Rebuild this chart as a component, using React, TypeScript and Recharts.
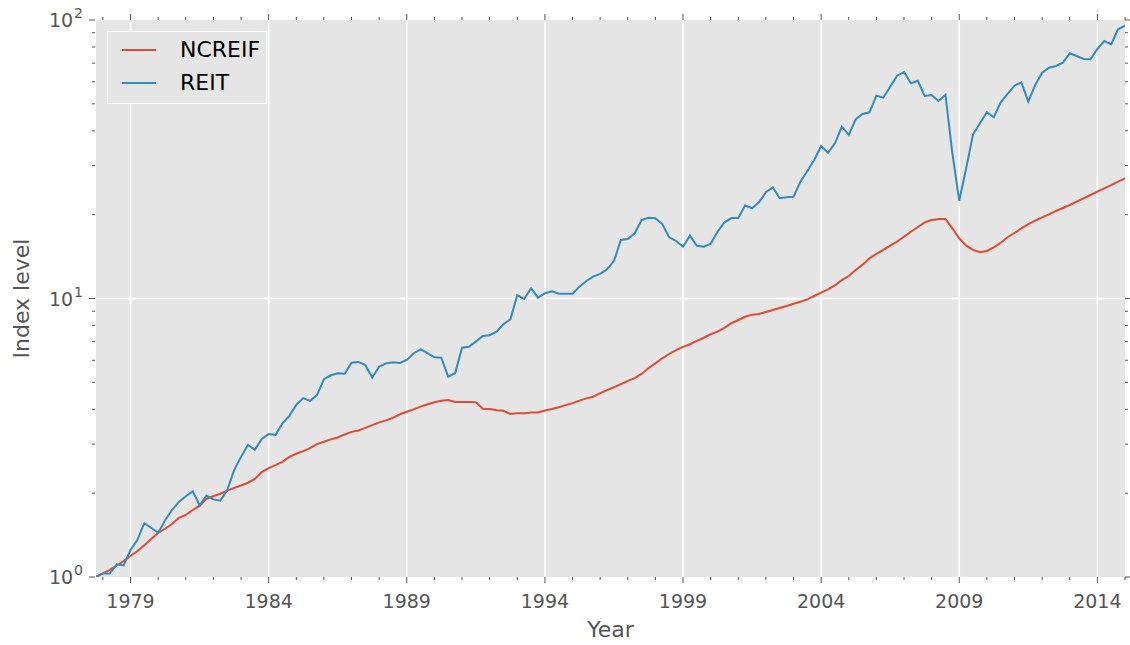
import React from 'react';
import { LineChart, Line, XAxis, YAxis, ReferenceLine, ReferenceArea, Legend, Label } from 'recharts';

// Quarterly series, first point = 1977 Q4 (index base 1.0)
const START_YEAR = 1977.75;
const STEP = 0.25;

const ncreifValues = [
  1.00, 1.03, 1.06, 1.10, 1.14, 1.19, 1.24, 1.30, 1.37, 1.44,
  1.49, 1.55, 1.63, 1.67, 1.74, 1.80, 1.91, 1.95, 1.99, 2.04,
  2.09, 2.13, 2.18, 2.25, 2.38, 2.46, 2.52, 2.59, 2.70, 2.77,
  2.83, 2.90, 3.00, 3.06, 3.12, 3.17, 3.25, 3.32, 3.36, 3.43,
  3.51, 3.59, 3.65, 3.73, 3.84, 3.92, 4.00, 4.09, 4.17, 4.24,
  4.29, 4.32, 4.25, 4.25, 4.25, 4.24, 4.02, 4.01, 3.97, 3.95,
  3.85, 3.87, 3.87, 3.90, 3.90, 3.96, 4.01, 4.07, 4.14, 4.21,
  4.30, 4.38, 4.44, 4.57, 4.69, 4.80, 4.93, 5.06, 5.18, 5.36,
  5.62, 5.85, 6.10, 6.32, 6.53, 6.70, 6.85, 7.04, 7.23, 7.44,
  7.60, 7.85, 8.15, 8.37, 8.60, 8.75, 8.80, 8.94, 9.09, 9.25,
  9.40, 9.58, 9.74, 9.93, 10.21, 10.49, 10.79, 11.15, 11.65, 12.04,
  12.66, 13.23, 13.94, 14.45, 14.94, 15.47, 16.00, 16.67, 17.37, 18.06,
  18.77, 19.14, 19.30, 19.30, 17.87, 16.45, 15.47, 14.94, 14.65, 14.81,
  15.27, 15.86, 16.59, 17.19, 17.87, 18.51, 19.03, 19.57, 20.06, 20.62,
  21.13, 21.66, 22.26, 22.90, 23.53, 24.18, 24.86, 25.55, 26.27, 27.02,
];

const reitValues = [
  1.00, 1.03, 1.03, 1.11, 1.10, 1.25, 1.36, 1.56, 1.50, 1.44,
  1.60, 1.74, 1.86, 1.95, 2.03, 1.81, 1.96, 1.90, 1.88, 2.05,
  2.42, 2.70, 2.98, 2.86, 3.13, 3.26, 3.24, 3.56, 3.79, 4.15,
  4.39, 4.29, 4.50, 5.13, 5.30, 5.39, 5.37, 5.88, 5.92, 5.77,
  5.20, 5.69, 5.85, 5.90, 5.87, 6.02, 6.36, 6.57, 6.36, 6.15,
  6.13, 5.24, 5.39, 6.66, 6.71, 7.00, 7.33, 7.38, 7.60, 8.08,
  8.42, 10.27, 9.96, 10.88, 10.07, 10.44, 10.61, 10.40, 10.40, 10.40,
  11.03, 11.56, 11.98, 12.25, 12.73, 13.63, 16.22, 16.35, 17.15, 19.14,
  19.50, 19.41, 18.51, 16.59, 16.09, 15.35, 16.81, 15.47, 15.35, 15.73,
  17.37, 18.77, 19.45, 19.45, 21.61, 21.08, 22.15, 24.07, 25.07, 22.90,
  23.09, 23.20, 26.27, 28.70, 31.43, 35.29, 33.39, 36.08, 41.40, 38.65,
  44.00, 45.97, 46.62, 53.47, 52.60, 57.62, 63.10, 65.06, 59.25, 60.53,
  53.35, 53.80, 51.20, 53.92, 33.20, 22.45, 29.35, 38.88, 42.57, 46.62,
  44.73, 50.64, 54.25, 58.09, 59.74, 50.89, 58.43, 64.69, 67.40, 68.37,
  70.27, 75.94, 74.26, 72.44, 72.30, 78.70, 84.07, 81.80, 92.60, 95.40,
];

const yearTicks = [
  1978, 1979, 1980, 1981, 1982, 1983, 1984, 1985, 1986, 1987,
  1988, 1989, 1990, 1991, 1992, 1993, 1994, 1995, 1996, 1997,
  1998, 1999, 2000, 2001, 2002, 2003, 2004, 2005, 2006, 2007,
  2008, 2009, 2010, 2011, 2012, 2013, 2014, 2015,
];
const majorYears = [1979, 1984, 1989, 1994, 1999, 2004, 2009, 2014];
const yTicks = [1, 2, 3, 4, 5, 6, 7, 8, 9, 10, 20, 30, 40, 50, 60, 70, 80, 90, 100];
const yMajor = [1, 10, 100];
const yExponent: Record<number, string> = { 1: '0', 10: '1', 100: '2' };

const data = ncreifValues.map((v, i) => ({
  t: START_YEAR + i * STEP,
  NCREIF: v,
  REIT: reitValues[i],
}));

const W = 1130;
const H = 645;
const M = { top: 20, right: 5, bottom: 0, left: 0 };
const Y_AXIS_W = 96;
const X_AXIS_H = 68;
const PLOT_W = W - M.left - M.right - Y_AXIS_W;
const PLOT_H = H - M.top - M.bottom - X_AXIS_H;

const FONT = '"DejaVu Sans", "Liberation Sans", sans-serif';
const TICK_COLOR = '#555555';
const BG = '#E5E5E5';
const RED = '#E24A33';
const BLUE = '#348ABD';

const XTick = (props: any) => {
  const { x, y, payload } = props;
  const major = majorYears.includes(payload.value);
  const len = major ? 6 : 3;
  return (
    <g>
      <line x1={x} x2={x} y1={y} y2={y + len} stroke={TICK_COLOR} strokeWidth={1} />
      <line x1={x} x2={x} y1={y - PLOT_H} y2={y - PLOT_H - len} stroke={TICK_COLOR} strokeWidth={1} />
      {major && (
        <text x={x} y={y + 31} textAnchor="middle" fill={TICK_COLOR} fontSize={19} fontFamily={FONT}>
          {payload.value}
        </text>
      )}
    </g>
  );
};

const YTick = (props: any) => {
  const { x, y, payload } = props;
  const major = yMajor.includes(payload.value);
  const len = major ? 6 : 3;
  return (
    <g>
      <line x1={x - 1} x2={x - 1 - len} y1={y} y2={y} stroke={TICK_COLOR} strokeWidth={1} />
      <line x1={x + PLOT_W} x2={x + PLOT_W + len} y1={y} y2={y} stroke={TICK_COLOR} strokeWidth={1} />
      {major && (
        <text x={x - 13} y={y + 7} textAnchor="end" fill={TICK_COLOR} fontSize={19} fontFamily={FONT}>
          <tspan>10</tspan>
          <tspan dy={-9} dx={1} fontSize={14}>{yExponent[payload.value]}</tspan>
        </text>
      )}
    </g>
  );
};

const XTitle = (props: any) => {
  const vb = props.viewBox;
  return (
    <text x={vb.x + vb.width / 2} y={vb.y + 60} textAnchor="middle" fill={TICK_COLOR} fontSize={22} fontFamily={FONT}>
      Year
    </text>
  );
};

const YTitle = (props: any) => {
  const vb = props.viewBox;
  const cx = vb.x + 29;
  const cy = vb.y + vb.height / 2;
  return (
    <text x={cx} y={cy} transform={`rotate(-90 ${cx} ${cy})`} textAnchor="middle" fill={TICK_COLOR} fontSize={22} fontFamily={FONT}>
      Index level
    </text>
  );
};

const LegendBox = (props: any) => {
  const items = props.payload || [];
  return (
    <div
      style={{
        boxSizing: 'border-box',
        width: 160,
        height: 73,
        background: BG,
        border: '1px solid #ffffff',
        position: 'relative',
        fontFamily: FONT,
        fontSize: 22,
        color: '#000',
      }}
    >
      {items.map((it: any, i: number) => (
        <div key={it.value} style={{ position: 'absolute', left: 0, top: 18 + i * 33 - 14, height: 28, width: 158 }}>
          <svg width={40} height={28} style={{ position: 'absolute', left: 14, top: 0 }}>
            <line x1={0} x2={34} y1={14} y2={14} stroke={it.color} strokeWidth={2} />
          </svg>
          <span style={{ position: 'absolute', left: 72, top: 0, lineHeight: '28px', whiteSpace: 'nowrap' }}>{it.value}</span>
        </div>
      ))}
    </div>
  );
};

export default function App() {
  return (
    <div style={{ position: 'absolute', left: 0, top: 0, width: W, height: H, background: '#ffffff' }}>
      <LineChart width={W} height={H} data={data} margin={M}>
        <XAxis
          dataKey="t"
          type="number"
          domain={[START_YEAR, 2015]}
          ticks={yearTicks}
          interval={0}
          tick={<XTick />}
          tickLine={false}
          axisLine={false}
          tickSize={0}
          tickMargin={0}
          height={X_AXIS_H}
          allowDataOverflow
        >
          <Label content={<XTitle />} />
        </XAxis>
        <YAxis
          type="number"
          scale="log"
          domain={[1, 100]}
          ticks={yTicks}
          interval={0}
          tick={<YTick />}
          tickLine={false}
          axisLine={false}
          tickSize={0}
          tickMargin={0}
          width={Y_AXIS_W}
          allowDataOverflow
        >
          <Label content={<YTitle />} />
        </YAxis>
        <ReferenceArea x1={START_YEAR} x2={2015} y1={1} y2={100} fill={BG} fillOpacity={1} stroke="none" />
        {majorYears.map((yr) => (
          <ReferenceLine key={yr} x={yr} stroke="#ffffff" strokeWidth={1.6} />
        ))}
        <ReferenceLine y={10} stroke="#ffffff" strokeWidth={1.6} />
        <Line dataKey="NCREIF" name="NCREIF" stroke={RED} strokeWidth={2} dot={false} isAnimationActive={false} />
        <Line dataKey="REIT" name="REIT" stroke={BLUE} strokeWidth={2} dot={false} isAnimationActive={false} />
        <Legend
          layout="vertical"
          align="center"
          verticalAlign="middle"
          content={<LegendBox />}
          wrapperStyle={{ left: 107, top: 31, width: 160, height: 73 }}
        />
      </LineChart>
    </div>
  );
}
